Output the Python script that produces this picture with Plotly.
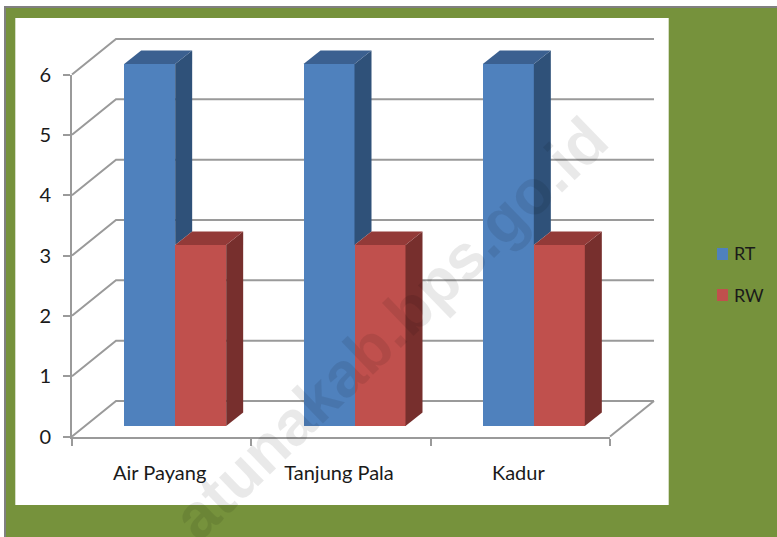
import plotly.graph_objects as go

categories = ["Air Payang", "Tanjung Pala", "Kadur"]
rt_values = [6, 6, 6]
rw_values = [3, 3, 3]
y_ticks = [0, 1, 2, 3, 4, 5, 6]

W, H = 777, 537
L, R, T, B = 72, 610, 74.5, 436.5
UX = (R - L) / len(categories)
UY = (B - T) / max(y_ticks)

WALL_DX, WALL_DY = 44 / UX, 35.5 / UY
SHIFT_X, SHIFT_Y = 13.5 / UX, 10.5 / UY
BAR_W = 51 / UX
DEPTH_X, DEPTH_Y = 17 / UX, 13.5 / UY
LABEL_NUDGE = -2 / UX

GRID = "#9a9a9a"
TEXT = "#1a1a1a"
FONT = "Lato, Carlito, Calibri, sans-serif"
BLUE, BLUE_TOP, BLUE_SIDE = "#4f81bd", "#3b6090", "#2f5179"
RED, RED_TOP, RED_SIDE = "#c0504d", "#933a38", "#772f2d"
GREEN = "#76923c"


def fx(px):
    return px / W


def fy(py):
    return (H - py) / H


x_range = [-0.5, len(categories) - 0.5]
y_range = [0, max(y_ticks)]
# Full-page ranges, so the 3D walls and bars may extend past the axes box
x_full = [x_range[0] - L / UX, x_range[1] + (W - R) / UX]
y_full = [-(H - B) / UY, y_range[1] + T / UY]

fig = go.Figure()

# Axis carrier (labels and ticks live on x / y)
fig.add_trace(go.Scatter(x=[], y=[], xaxis="x", yaxis="y", showlegend=False))

# Walls and floor
gx, gy = [], []
x0, x1 = x_range
for v in y_ticks:
    gx += [x0, x0 + WALL_DX, x1 + WALL_DX, None]
    gy += [v, v + WALL_DY, v + WALL_DY, None]
gx += [x1, x1 + WALL_DX]
gy += [0, WALL_DY]
fig.add_trace(go.Scatter(x=gx, y=gy, mode="lines", showlegend=False, xaxis="x2", yaxis="y2",
                         hoverinfo="skip", line=dict(color=GRID, width=2)))

# Front faces
centers = list(range(len(categories)))
rt_x = [c + SHIFT_X - BAR_W / 2 for c in centers]
rw_x = [c + SHIFT_X + BAR_W / 2 for c in centers]
fig.add_trace(go.Bar(name="RT", x=rt_x, y=rt_values, base=[SHIFT_Y] * 3, width=BAR_W,
                     marker=dict(color=BLUE, line=dict(width=0)),
                     xaxis="x3", yaxis="y3", showlegend=False))
fig.add_trace(go.Bar(name="RW", x=rw_x, y=rw_values, base=[SHIFT_Y] * 3, width=BAR_W,
                     marker=dict(color=RED, line=dict(width=0)),
                     xaxis="x3", yaxis="y3", showlegend=False))


def face(xs, ys, color):
    fig.add_trace(go.Scatter(x=xs, y=ys, mode="lines", fill="toself", fillcolor=color,
                             line=dict(width=0, color=color),
                             xaxis="x3", yaxis="y3", showlegend=False, hoverinfo="skip"))


def prism(xc, val, floor, top_color, side_color):
    l, r = xc - BAR_W / 2, xc + BAR_W / 2
    h = SHIFT_Y + val
    b = SHIFT_Y + floor
    face([r, r + DEPTH_X, r + DEPTH_X, r, r], [b, b + DEPTH_Y, h + DEPTH_Y, h, b], side_color)
    face([l, l + DEPTH_X, r + DEPTH_X, r, l], [h, h + DEPTH_Y, h + DEPTH_Y, h, h], top_color)


for i in centers:
    prism(rt_x[i], rt_values[i], rw_values[i], BLUE_TOP, BLUE_SIDE)
    prism(rw_x[i], rw_values[i], 0, RED_TOP, RED_SIDE)


def rect(px0, py0, px1, py1, color):
    return dict(type="rect", xref="paper", yref="paper", layer="below",
                x0=fx(px0), x1=fx(px1), y0=fy(py1), y1=fy(py0),
                fillcolor=color, line=dict(width=0))


shapes = [
    rect(4, 6, W, H, "#808080"),
    rect(6, 8, W, H, GREEN),
    rect(15.3, 18, 668.7, 505, "#ffffff"),
    dict(rect(717, 248, 728, 260, BLUE), layer="above"),
    dict(rect(717, 289, 728, 301, RED), layer="above"),
]

annotations = [
    dict(text="RT", xref="paper", yref="paper", x=fx(732), y=fy(253), xanchor="left",
         yanchor="middle", showarrow=False, font=dict(family=FONT, size=18, color=TEXT)),
    dict(text="RW", xref="paper", yref="paper", x=fx(732), y=fy(295), xanchor="left",
         yanchor="middle", showarrow=False, font=dict(family=FONT, size=18, color=TEXT)),
    dict(text="<b>atunakab.bps.go.id</b>", xref="paper", yref="paper", x=fx(390), y=fy(328),
         xanchor="center", yanchor="middle", showarrow=False, textangle=-44,
         font=dict(family="Liberation Sans, Arial, sans-serif", size=63, color="rgba(0,0,0,0.085)")),
]

fig.update_layout(
    width=W, height=H, autosize=False,
    margin=dict(l=0, r=0, t=0, b=0, pad=0, autoexpand=False),
    paper_bgcolor="#ffffff", plot_bgcolor="rgba(0,0,0,0)",
    barmode="overlay", bargap=0, showlegend=False,
    shapes=shapes, annotations=annotations,
    font=dict(family=FONT, size=18, color=TEXT),
    xaxis=dict(domain=[fx(L), fx(R)], range=x_range, anchor="y", tickmode="array",
               tickvals=[c + LABEL_NUDGE for c in centers], ticktext=categories,
               ticks="outside", ticklen=0, tickwidth=0, ticklabelstandoff=17,
               showgrid=False, zeroline=False, showline=True, linecolor=GRID, linewidth=2,
               tickfont=dict(family=FONT, size=20, color=TEXT),
               minor=dict(tickmode="array",
                          tickvals=[c - 0.5 for c in centers] + [centers[-1] + 0.5],
                          ticks="outside", ticklen=7, tickwidth=2, tickcolor=GRID, showgrid=False)),
    yaxis=dict(domain=[fy(B), fy(T)], range=y_range, anchor="x", tickmode="array", tickvals=y_ticks,
               ticks="outside", ticklen=7, tickwidth=2, tickcolor=GRID, ticklabelstandoff=8,
               showgrid=False, zeroline=False, showline=True, linecolor=GRID, linewidth=2,
               tickfont=dict(family=FONT, size=20, color=TEXT)),
    xaxis2=dict(domain=[0, 1], range=x_full, anchor="y2", visible=False),
    yaxis2=dict(domain=[0, 1], range=y_full, anchor="x2", visible=False),
    xaxis3=dict(domain=[0, 1], range=x_full, overlaying="x2", anchor="y3", visible=False),
    yaxis3=dict(domain=[0, 1], range=y_full, overlaying="y2", anchor="x3", visible=False),
)

fig.write_html("out.html", config=dict(displayModeBar=False),
               post_script="document.body.style.margin='0';document.body.style.overflow='hidden';")
